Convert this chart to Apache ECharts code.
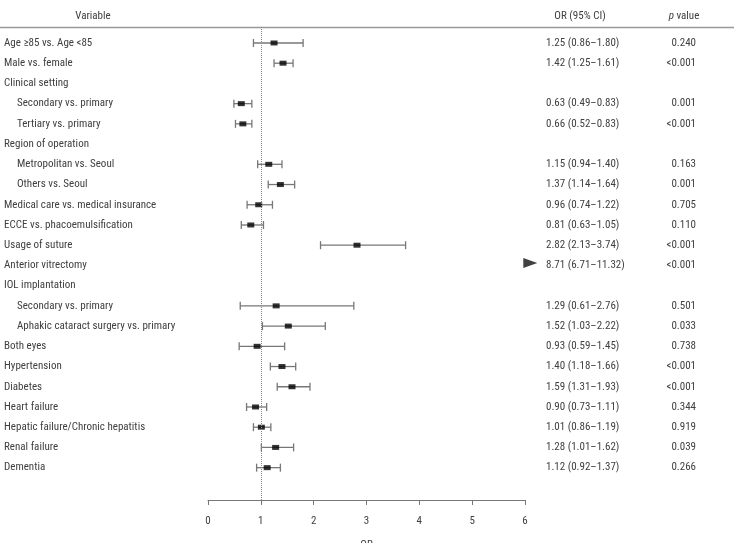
<!DOCTYPE html>
<html>
<head>
<meta charset="utf-8">
<script src="https://cdn.jsdelivr.net/npm/echarts@6/dist/echarts.min.js"></script>
<style>
  html, body { margin: 0; padding: 0; background: #fff; }
  #chart { width: 734px; height: 543px; }
</style>
</head>
<body>
<div id="chart"></div>
<script>
// row labels, top to bottom
const labels = [
  'Age \u226585 vs. Age <85', 'Male vs. female', 'Clinical setting',
  'Secondary vs. primary', 'Tertiary vs. primary', 'Region of operation',
  'Metropolitan vs. Seoul', 'Others vs. Seoul', 'Medical care vs. medical insurance',
  'ECCE vs. phacoemulsification', 'Usage of suture', 'Anterior vitrectomy',
  'IOL implantation', 'Secondary vs. primary', 'Aphakic cataract surgery vs. primary',
  'Both eyes', 'Hypertension', 'Diabetes', 'Heart failure',
  'Hepatic failure/Chronic hepatitis', 'Renal failure', 'Dementia'
];
const indented = [3, 4, 6, 7, 13, 14];
const orVal = [1.25, 1.42, null, 0.63, 0.66, null, 1.15, 1.37, 0.96, 0.81, 2.82, 8.71,
  null, 1.29, 1.52, 0.93, 1.40, 1.59, 0.90, 1.01, 1.28, 1.12];
const ciLow = [0.86, 1.25, null, 0.49, 0.52, null, 0.94, 1.14, 0.74, 0.63, 2.13, 6.71,
  null, 0.61, 1.03, 0.59, 1.18, 1.31, 0.73, 0.86, 1.01, 0.92];
const ciHigh = [1.80, 1.61, null, 0.83, 0.83, null, 1.40, 1.64, 1.22, 1.05, 3.74, 11.32,
  null, 2.76, 2.22, 1.45, 1.66, 1.93, 1.11, 1.19, 1.62, 1.37];
const pText = ['0.240', '<0.001', '', '0.001', '<0.001', '', '0.163', '0.001', '0.705',
  '0.110', '<0.001', '<0.001', '', '0.501', '0.033', '0.738', '<0.001', '<0.001',
  '0.344', '0.919', '0.039', '0.266'];
const xMax = 6;
// off-scale estimates are shown as an arrow just past the axis end
const arrowAt = 6.1;

const FONT = '"Liberation Sans Narrow", "Roboto Condensed", Roboto, sans-serif';
const TXT = '#404040';

const fmt = v => v.toFixed(2);
const orText = orVal.map((v, i) => v == null ? '' :
  fmt(v) + ' (' + fmt(ciLow[i]) + '\u2013' + fmt(ciHigh[i]) + ')');

const rows = labels.map((l, i) => i);
const inRange = [], offScale = [], bars = [];
orVal.forEach((v, i) => {
  if (v == null) return;
  if (ciHigh[i] > xMax) { offScale.push([arrowAt, i - 0.12]); return; }
  inRange.push([v, i]);
  bars.push([ciLow[i], ciHigh[i], i]);
});

const chart = echarts.init(document.getElementById('chart'));
chart.setOption({
  animation: false,
  textStyle: { fontFamily: FONT },
  graphic: [
    { type: 'text', x: 93, y: 16, style: { text: 'Variable', font: '11px ' + FONT, fill: TXT, textAlign: 'center', textVerticalAlign: 'middle' } },
    { type: 'text', x: 580, y: 16, style: { text: 'OR (95% CI)', font: '11px ' + FONT, fill: TXT, textAlign: 'center', textVerticalAlign: 'middle' } },
    { type: 'text', x: 684, y: 16, style: { rich: { i: { fontStyle: 'italic', fontSize: 11, fontFamily: FONT, fill: TXT } }, text: '{i|p} value', font: '11px ' + FONT, fill: TXT, textAlign: 'center', textVerticalAlign: 'middle' } },
    { type: 'line', shape: { x1: 0, y1: 27.5, x2: 734, y2: 27.5 }, style: { stroke: '#999', lineWidth: 1.5 } }
  ],
  grid: { left: 208, right: 209, top: 27, bottom: 43, outerBoundsMode: 'none', containLabel: false },
  xAxis: {
    type: 'value', min: 0, max: xMax, interval: 1, position: 'bottom',
    name: 'OR', nameLocation: 'middle', nameGap: 40,
    nameTextStyle: { fontSize: 11, color: TXT, fontFamily: FONT },
    axisLine: { onZero: false, lineStyle: { color: '#777', width: 1 } },
    axisTick: { length: 5, lineStyle: { color: '#777' } },
    axisLabel: { fontSize: 11, color: TXT, margin: 16, fontFamily: FONT },
    splitLine: { show: false }
  },
  yAxis: {
    type: 'value', inverse: true, min: -0.79, max: 22.6, show: false
  },
  series: [
    {
      type: 'custom',
      data: bars,
      z: 2,
      renderItem: (params, api) => {
        const a = api.coord([api.value(0), api.value(2)]);
        const b = api.coord([api.value(1), api.value(2)]);
        const h = 4;
        const st = { stroke: '#777', lineWidth: 1.3 };
        return {
          type: 'group', children: [
            { type: 'line', shape: { x1: a[0], y1: a[1], x2: b[0], y2: b[1] }, style: st },
            { type: 'line', shape: { x1: a[0], y1: a[1] - h, x2: a[0], y2: a[1] + h }, style: st },
            { type: 'line', shape: { x1: b[0], y1: b[1] - h, x2: b[0], y2: b[1] + h }, style: st }
          ]
        };
      }
    },
    {
      type: 'scatter',
      data: inRange,
      symbol: 'rect',
      symbolSize: [7, 5],
      itemStyle: { color: '#000' },
      z: 3,
      markLine: {
        silent: true, symbol: 'none', label: { show: false },
        lineStyle: { color: '#888', type: 'dotted', width: 1 },
        data: [{ xAxis: 1 }]
      }
    },
    {
      type: 'scatter',
      data: offScale,
      clip: false,
      symbol: 'triangle',
      symbolRotate: -90,
      symbolSize: [10, 14],
      itemStyle: { color: '#111' },
      z: 3
    },
    {
      type: 'custom',
      data: rows,
      clip: false,
      renderItem: (params, api) => {
        const i = api.value(0);
        const y = api.coord([0, i])[1];
        const base = { font: '11px ' + FONT, fill: TXT, textVerticalAlign: 'middle' };
        return {
          type: 'group', children: [
            { type: 'text', x: indented.includes(i) ? 17 : 4, y: y, style: Object.assign({ text: labels[i], textAlign: 'left' }, base) },
            { type: 'text', x: 546, y: y, style: Object.assign({ text: orText[i], textAlign: 'left' }, base) },
            { type: 'text', x: 696, y: y, style: Object.assign({ text: pText[i], textAlign: 'right' }, base) }
          ]
        };
      }
    }
  ]
});
</script>
</body>
</html>
